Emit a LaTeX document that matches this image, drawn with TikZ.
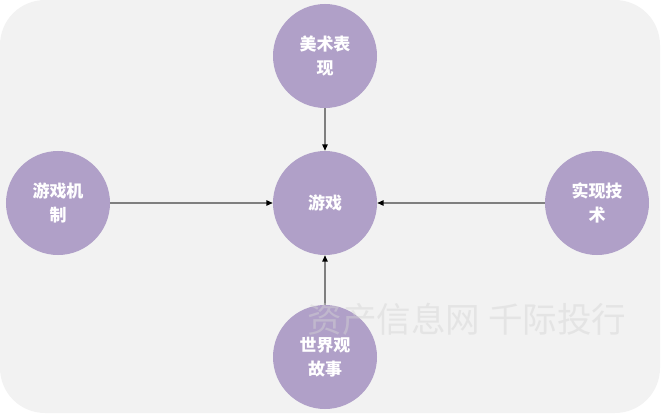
\documentclass[tikz,border=0pt]{standalone}
\usepackage{fontspec}
\newfontfamily\cjk{Noto Sans CJK SC}
\usetikzlibrary{arrows.meta,positioning}
\definecolor{panelgray}{HTML}{F2F2F2}
\definecolor{topicpurple}{HTML}{B0A0C8}
\definecolor{linkgray}{HTML}{7F7F7F}
\definecolor{wmgray}{HTML}{D4D4D4}
\tikzset{
  >={Triangle[length=1.9mm,width=1.6mm,color=black]},
  % kreise
  topic/.style={circle,fill=topicpurple,draw=none,inner sep=0pt,
                minimum size=3.12cm,text=white,align=center,
                font=\cjk\bfseries\fontsize{14.5}{21}\selectfont},
  link/.style={->,draw=linkgray,line width=1.1pt},
  wmtext/.style={text=wmgray,opacity=0.45,font=\cjk\fontsize{29.5}{32}\selectfont},
}
\begin{document}
\begin{tikzpicture}[x=0.03cm,y=-0.03cm]
\useasboundingbox (0,0) rectangle (665,419);
  \fill[panelgray,rounded corners=1.35cm] (0,0) rectangle (660,413);
  \node[topic] (game) at (325,203) {游戏};
  \node[topic] (art) at (325,56) {美术表\\现};
  \node[topic] (mech) at (58,203) {游戏机\\制};
  \node[topic] (tech) at (597,203) {实现技\\术};
  \node[topic] (story) at (325,357) {世界观\\故事};
  \draw[link] (art) -- (game);
  \draw[link] (mech) -- (game);
  \draw[link] (tech) -- (game);
  \draw[link] (story) -- (game);
  \node[wmtext] (wm) at (467,319) {资产信息网 千际投行};
\end{tikzpicture}
\end{document}
